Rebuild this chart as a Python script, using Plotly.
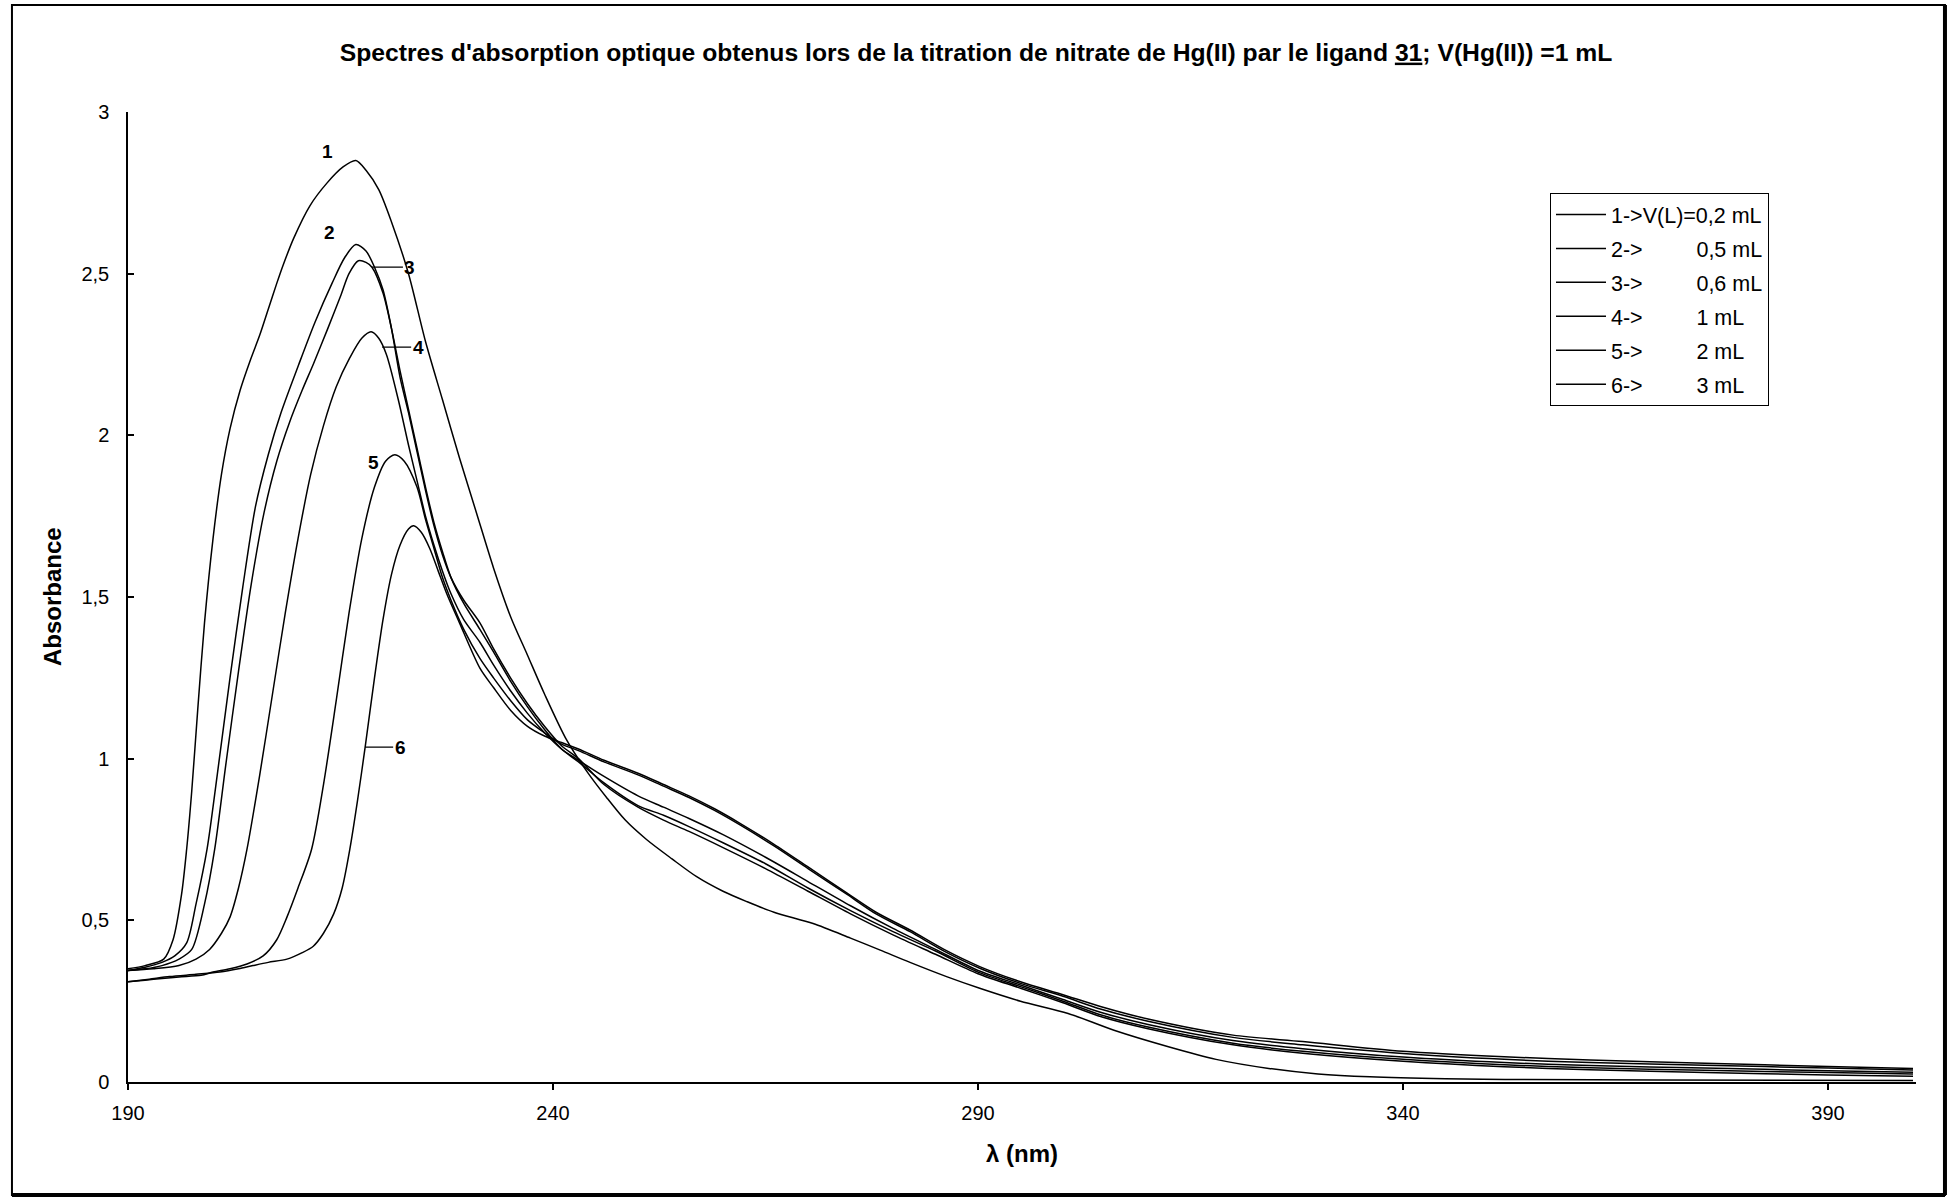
import plotly.graph_objects as go

# Wavelength (nm) and absorbance read for each titration step
wl_1 = [190, 192, 194.2, 195.3, 196.3, 196.9, 197.5, 198.2, 199, 200, 201, 202, 203.2, 204.4,
        205.5, 206.5, 207.5, 208.3, 209.5, 211.4, 213.4, 215.3, 216.8, 218, 219.5, 221, 223,
        225, 227, 229, 231, 233, 235, 237, 239, 241.6, 244, 246.3, 248.5, 251, 254, 256.9,
        260, 262.8, 266, 270.6, 275, 278.5, 282, 286.3, 290.2, 295, 300.6, 306, 312.4, 318,
        324.2, 330, 336.1, 345, 352, 370, 400]
abs_1 = [0.35, 0.36, 0.38, 0.44, 0.58, 0.72, 0.9, 1.15, 1.42, 1.68, 1.88, 2.02, 2.14, 2.233,
         2.31, 2.39, 2.47, 2.53, 2.61, 2.71, 2.78, 2.83, 2.85, 2.82, 2.76, 2.66, 2.5,
         2.29, 2.11, 1.93, 1.76, 1.59, 1.44, 1.32, 1.2, 1.058, 0.96, 0.88, 0.81, 0.75, 0.69, 0.635,
         0.59, 0.558, 0.525, 0.49, 0.445, 0.408, 0.37, 0.326, 0.29, 0.25, 0.212, 0.16, 0.109, 0.07,
         0.042, 0.025, 0.016, 0.01, 0.008, 0.006, 0.005]

wl_2 = [190, 192, 194, 195.5, 196.9, 198, 199.3, 200.5, 202, 203.5, 205, 206.5, 208, 210.1,
        212, 214, 215.5, 216.8, 218, 219, 220, 221, 222, 223, 224, 225, 226, 227, 228, 229.5,
        231.4, 233, 235, 237, 239, 241, 243, 246, 250, 253, 256, 260, 265, 270, 275, 280, 285,
        290, 295, 300, 304.5, 310, 320, 328.2, 340, 351.9, 362, 375.5, 390, 400]
abs_2 = [0.345, 0.355, 0.37, 0.39, 0.43, 0.55, 0.72, 0.95, 1.25, 1.53, 1.78, 1.94, 2.07, 2.22,
         2.35, 2.47, 2.55, 2.59, 2.57, 2.52, 2.45, 2.33, 2.18, 2.07, 1.95, 1.83, 1.72, 1.63, 1.56, 1.49,
         1.42, 1.34, 1.25, 1.17, 1.1, 1.04, 1.0, 0.92, 0.85, 0.81, 0.775, 0.725, 0.66, 0.59, 0.52, 0.455, 0.395,
         0.335, 0.29, 0.245, 0.202, 0.165, 0.115, 0.089, 0.064, 0.047, 0.038, 0.029, 0.022, 0.018]

wl_3 = [190, 192, 194, 196, 197.5, 199, 200.2, 201.5, 203, 204.5, 206, 207.5, 209, 210.5,
        211.8, 213.5, 215, 216, 217.1, 218, 218.7, 220, 221, 222, 223, 224, 225, 226, 227, 228,
        229.5, 231.4, 233, 235, 237, 239, 241, 243, 246, 250, 253, 256, 260, 265, 270, 275, 280,
        285, 290, 295, 300, 304.5, 310, 320, 328.2, 340, 351.9, 362, 375.5, 390, 400]
abs_3 = [0.345, 0.35, 0.36, 0.38, 0.41, 0.55, 0.72, 0.98, 1.27, 1.54, 1.76, 1.92, 2.04, 2.14,
         2.22, 2.33, 2.43, 2.5, 2.54, 2.535, 2.52, 2.44, 2.33, 2.2, 2.08, 1.96, 1.84, 1.73, 1.64, 1.56,
         1.48, 1.40, 1.33, 1.24, 1.16, 1.09, 1.03, 0.99, 0.925, 0.855, 0.825, 0.79, 0.74, 0.675, 0.6, 0.53, 0.465,
         0.405, 0.34, 0.295, 0.25, 0.207, 0.17, 0.12, 0.095, 0.07, 0.053, 0.044, 0.036, 0.029, 0.025]

wl_4 = [190, 193, 196, 198, 199.6, 201, 202, 203, 204, 205.5, 207, 208.5, 210, 211.5, 213,
        214.5, 216.1, 217.5, 218.6, 219.5, 220.4, 221.8, 223, 224, 225, 226, 227, 228, 229.5,
        231.4, 233, 235, 237, 239, 241, 243, 246, 250, 253, 256, 260, 265, 270, 275, 280, 285,
        290, 295, 300, 304.5, 310, 320, 328.2, 340, 351.9, 362, 375.5, 390, 400]
abs_4 = [0.345, 0.35, 0.36, 0.38, 0.41, 0.46, 0.51, 0.6, 0.72, 0.95, 1.2, 1.45, 1.68, 1.88, 2.03,
         2.15, 2.24, 2.3, 2.32, 2.3, 2.25, 2.11, 1.97, 1.86, 1.75, 1.66, 1.58, 1.51, 1.43,
         1.36, 1.29, 1.21, 1.14, 1.08, 1.03, 0.995, 0.945, 0.885, 0.85, 0.815, 0.765, 0.695, 0.62, 0.545, 0.475, 0.41,
         0.345, 0.3, 0.255, 0.215, 0.178, 0.128, 0.103, 0.077, 0.06, 0.051, 0.043, 0.035, 0.03]

wl_5 = [190, 192, 194, 196, 198.6, 200, 202, 204, 205.9, 207.5, 208.7, 210, 211.6, 213,
        214.5, 216, 217.5, 219, 220.3, 221.4, 222.5, 224, 225, 226, 227, 228, 229.5, 231.4, 233,
        235, 237, 239, 241, 243, 246, 250, 253, 256, 259, 262, 266, 270, 274.6, 278, 282, 286,
        290.2, 295, 300, 304.5, 310, 320, 328.2, 340, 351.9, 362, 375.5, 390, 400]
abs_5 = [0.31, 0.315, 0.32, 0.325, 0.33, 0.34, 0.35, 0.365, 0.39, 0.44, 0.51, 0.6, 0.72, 0.92,
         1.18, 1.45, 1.68, 1.84, 1.92, 1.94, 1.92, 1.84, 1.74, 1.65, 1.56, 1.49, 1.40, 1.31, 1.25,
         1.18, 1.12, 1.08, 1.045, 1.025, 0.99, 0.95, 0.915, 0.88, 0.84, 0.795, 0.73, 0.66, 0.58, 0.52, 0.465, 0.405,
         0.352, 0.305, 0.265, 0.225, 0.188, 0.138, 0.115, 0.088, 0.07, 0.06, 0.052, 0.043, 0.037]

wl_6 = [190, 192.5, 194.9, 198, 200.8, 203, 204.7, 206.5, 208.7, 210.5, 211.8, 213, 214.2,
        215.2, 216.1, 217, 217.9, 219, 220, 221, 222, 223, 223.6, 224.5, 225.5, 226.5, 227.5,
        229, 231.4, 233, 235, 237, 239, 241, 243, 246, 250, 253, 256, 259, 262, 266, 270, 274.6,
        278, 282, 286, 290.2, 295, 300, 304.5, 310, 320, 328.2, 340, 351.9, 362, 375.5, 390, 400]
abs_6 = [0.31, 0.318, 0.326, 0.333, 0.34, 0.35, 0.36, 0.37, 0.38, 0.4, 0.42, 0.46, 0.52,
         0.6, 0.72, 0.87, 1.036, 1.25, 1.43, 1.57, 1.66, 1.71, 1.72, 1.70, 1.65, 1.58, 1.51,
         1.42, 1.28, 1.22, 1.15, 1.1, 1.07, 1.05, 1.03, 0.995, 0.955, 0.92, 0.885, 0.845, 0.8, 0.735, 0.665, 0.584,
         0.525, 0.47, 0.41, 0.357, 0.31, 0.27, 0.233, 0.195, 0.145, 0.125, 0.095, 0.078, 0.068, 0.058, 0.048, 0.042]

series_wl = [wl_1, wl_2, wl_3, wl_4, wl_5, wl_6]
series_abs = [abs_1, abs_2, abs_3, abs_4, abs_5, abs_6]

# Legend entries: step number and added ligand volume
steps = ["1", "2", "3", "4", "5", "6"]
volumes = ["V(L)=0,2 mL", "0,5 mL", "0,6 mL", "1 mL", "2 mL", "3 mL"]

# Axis ticks
x_ticks = [190, 240, 290, 340, 390]
y_ticks = [0, 0.5, 1, 1.5, 2, 2.5, 3]
y_tick_text = ["0", "0,5", "1", "1,5", "2", "2,5", "3"]

# Curve number labels: (text, x, y, leader offset in px or None)
curve_labels = [("1", 213.5, 2.877, None), ("2", 213.65, 2.626, None),
                ("3", 218.7, 2.52, 38), ("4", 219.9, 2.273, 36),
                ("5", 218.94, 1.915, None), ("6", 217.9, 1.036, 35)]

FONT = "Liberation Sans, Arial, sans-serif"
PAD = "\u00a0" * 9

fig = go.Figure()
for i, (wl, ab) in enumerate(zip(series_wl, series_abs)):
    name = f"{steps[i]}->" + (volumes[i] if i == 0 else PAD + volumes[i])
    fig.add_trace(go.Scatter(
        x=wl, y=ab, mode="lines", name=name, legendgroup=steps[i],
        line=dict(color="black", width=1.5, shape="spline", smoothing=0.8),
    ))

for text, x, y, off in curve_labels:
    if off is None:
        fig.add_annotation(x=x, y=y, text=f"<b>{text}</b>", showarrow=False,
                           font=dict(size=19, family=FONT, color="black"))
    else:
        fig.add_annotation(x=x, y=y, text=f"<b>{text}</b>", showarrow=True,
                           arrowhead=0, arrowwidth=1.2, arrowcolor="black",
                           axref="pixel", ayref="pixel", ax=off, ay=0,
                           font=dict(size=19, family=FONT, color="black"))

# Axis titles
fig.add_annotation(xref="paper", yref="paper", x=-0.0425, y=0.5, xanchor="center", yanchor="middle",
                   text="<b>Absorbance</b>", textangle=-90, showarrow=False,
                   font=dict(size=24, family=FONT, color="black"))
fig.add_annotation(xref="paper", yref="paper", x=0.5, y=-0.0733, xanchor="center", yanchor="middle",
                   text="<b>λ (nm)</b>", showarrow=False,
                   font=dict(size=24, family=FONT, color="black"))

# Chart-area frame (thicker right/bottom edges)
fig.add_shape(type="rect", xref="paper", yref="paper", x0=-0.0649, x1=1.0162, y0=-0.1165, y1=1.1103,
              line=dict(color="black", width=2))
fig.add_shape(type="line", xref="paper", yref="paper", x0=1.0162, x1=1.0162, y0=-0.1165, y1=1.1103,
              line=dict(color="black", width=4))
fig.add_shape(type="line", xref="paper", yref="paper", x0=-0.0649, x1=1.0162, y0=-0.1165, y1=-0.1165,
              line=dict(color="black", width=4))

fig.update_layout(
    width=1952, height=1198,
    margin=dict(l=128, r=36, t=112, b=116),
    paper_bgcolor="white", plot_bgcolor="white",
    font=dict(family=FONT, size=20, color="black"),
    title=dict(
        text="<b>Spectres d'absorption optique obtenus lors de la titration de nitrate de Hg(II) "
             "par le ligand <u>31</u>; V(Hg(II)) =1 mL</b>",
        x=0.5, xanchor="center", y=0.9566, yanchor="middle",
        font=dict(size=24.7, family=FONT, color="black"),
    ),
    showlegend=True,
    legend=dict(
        x=0.7953, y=0.9165, xanchor="left", yanchor="top",
        bordercolor="black", borderwidth=1, bgcolor="white",
        font=dict(size=21.5, family=FONT, color="black"),
        tracegroupgap=3, itemwidth=50,
    ),
    xaxis=dict(
        range=[190, 400.35], tickvals=x_ticks, ticks="outside", ticklen=6, tickwidth=1.5,
        tickcolor="black", showline=True, linecolor="black", linewidth=1.5, showgrid=False,
        zeroline=False, ticklabelstandoff=6, tickfont=dict(size=20),
    ),
    xaxis2=dict(
        range=[190, 400.35], tickvals=x_ticks, ticks="inside", ticklen=6, tickwidth=1.5,
        tickcolor="black", showticklabels=False, overlaying="x", anchor="y",
        showline=False, showgrid=False, zeroline=False,
    ),
    yaxis=dict(
        range=[0, 3], tickvals=y_ticks, ticktext=y_tick_text, ticks="inside", ticklen=6,
        tickwidth=1.5, tickcolor="black", showline=True, linecolor="black", linewidth=1.5,
        showgrid=False, zeroline=False, ticklabelstandoff=13, tickfont=dict(size=20),
    ),
)

fig.write_html("out.html")
